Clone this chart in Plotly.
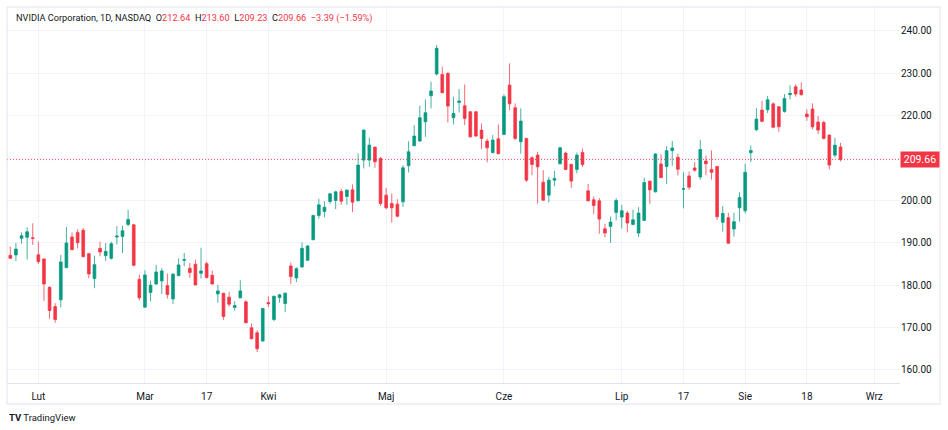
import plotly.graph_objects as go

# daily bars (oldest first)
opens = [187.06, 187.14, 191.06, 191.3, 191.2, 187.2, 186.2, 179.5, 174.98, 176.55,
         184.16, 191.37, 192.47, 193.0, 187.45, 181.57, 188.7, 186.98, 186.35, 191.37,
         191.53, 194.35, 194.27, 181.41, 174.82, 178.27, 180.3, 181.02, 179.92, 176.78,
         182.27, 185.88, 184.0, 184.94, 182.82, 185.1, 182.35, 177.96, 178.12, 177.18,
         174.75, 177.02, 176.08, 169.96, 168.78, 166.82, 175.92, 171.92, 177.1, 175.69,
         184.55, 181.73, 184.31, 185.88, 190.75, 196.47, 197.41, 199.76, 200.0, 202.12,
         200.94, 202.51, 199.92, 209.53, 209.53, 212.6, 209.92, 201.26, 199.29, 199.13,
         199.69, 208.19, 212.91, 214.02, 218.58, 224.72, 229.84, 229.76, 230.0, 219.53,
         223.15, 222.36, 220.94, 220.94, 216.61, 214.02, 211.26, 214.57, 215.59, 227.24,
         221.89, 213.86, 214.65, 210.08, 210.71, 204.33, 201.26, 204.8, 208.66, 211.18,
         208.5, 207.32, 211.34, 202.27, 200.16, 199.92, 193.33, 193.88, 197.18, 196.08,
         197.02, 194.35, 192.31, 195.29, 204.55, 202.04, 208.63, 208.0, 211.76, 210.2,
         202.67, 205.8, 207.69, 205.55, 209.3, 207.34, 208.05, 194.84, 195.94, 193.28,
         198.28, 197.58, 211.25, 216.72, 221.33, 221.41, 222.8, 222.13, 221.02, 224.96,
         226.85, 226.06, 220.39, 221.57, 218.5, 218.43, 215.43, 210.71, 212.64]
highs = [189.1, 189.96, 192.47, 193.65, 194.6, 190.27, 186.35, 179.76, 175.76, 187.14,
         193.73, 192.47, 193.25, 193.49, 187.6, 186.98, 190.27, 189.96, 190.27, 193.96,
         194.04, 197.8, 194.43, 182.5, 183.53, 181.1, 184.78, 184.0, 182.75, 182.9,
         186.35, 187.6, 185.25, 186.04, 188.86, 185.57, 183.45, 180.08, 178.2, 178.43,
         176.24, 181.18, 176.47, 170.98, 169.41, 174.67, 177.41, 177.49, 177.96, 178.27,
         185.33, 184.24, 190.12, 189.49, 196.63, 200.4, 199.84, 201.73, 202.27, 202.75,
         202.67, 203.76, 211.1, 216.77, 214.8, 212.68, 210.31, 202.99, 201.65, 200.31,
         208.35, 214.0, 217.8, 222.36, 223.86, 228.03, 236.69, 231.57, 230.24, 224.49,
         226.3, 227.4, 221.1, 221.1, 218.19, 214.65, 215.43, 217.95, 225.04, 232.36,
         222.91, 221.73, 214.8, 210.47, 211.5, 207.17, 205.59, 207.0, 212.68, 211.5,
         208.74, 211.34, 212.28, 203.92, 200.94, 200.55, 194.51, 196.24, 200.55, 198.98,
         197.57, 197.8, 198.43, 205.41, 204.7, 211.14, 210.9, 212.86, 214.04, 210.98,
         206.67, 206.82, 209.02, 214.3, 210.63, 211.8, 208.13, 198.67, 197.11, 197.11,
         201.95, 208.67, 212.97, 221.8, 223.52, 224.69, 223.13, 222.28, 225.12, 227.17,
         227.4, 227.87, 221.5, 222.91, 219.92, 218.82, 215.59, 214.8, 213.60]
lows = [186.2, 185.7, 189.8, 186.04, 189.5, 185.02, 176.3, 172.08, 171.14, 174.8,
        184.0, 188.24, 188.7, 186.59, 181.65, 179.3, 186.82, 185.73, 186.04, 189.65,
        187.6, 193.88, 184.47, 176.4, 174.75, 176.16, 180.08, 177.96, 176.86, 175.6,
        182.12, 184.47, 181.73, 180.0, 181.57, 181.65, 180.16, 175.84, 171.84, 174.9,
        174.04, 176.94, 170.98, 167.22, 164.24, 166.75, 174.82, 171.53, 175.84, 173.65,
        180.31, 180.7, 184.16, 185.8, 190.6, 195.7, 196.0, 199.2, 197.96, 198.98,
        198.98, 197.25, 199.84, 207.56, 207.95, 207.72, 198.74, 197.95, 194.8, 196.06,
        198.5, 206.61, 212.83, 213.86, 215.04, 221.73, 229.53, 225.28, 218.43, 217.95,
        220.79, 217.8, 214.8, 215.04, 212.13, 208.98, 211.18, 210.94, 215.43, 221.34,
        214.25, 211.02, 204.41, 205.98, 199.29, 199.92, 199.53, 203.39, 208.5, 207.17,
        202.99, 206.38, 207.95, 199.76, 196.78, 192.16, 191.29, 189.96, 195.29, 193.41,
        192.47, 194.12, 191.37, 195.22, 199.22, 201.88, 205.25, 203.92, 208.16, 205.88,
        198.12, 202.51, 206.82, 204.92, 205.94, 204.92, 195.39, 192.66, 189.77, 191.48,
        195.0, 196.95, 209.06, 216.33, 218.44, 220.63, 217.03, 216.22, 220.71, 223.86,
        224.49, 224.8, 218.82, 216.77, 215.67, 214.41, 207.32, 210.16, 209.23]
closes = [186.35, 188.55, 191.69, 192.63, 191.06, 185.57, 180.3, 174.04, 171.9, 185.49,
          189.96, 188.4, 190.04, 186.75, 182.67, 184.86, 187.84, 188.0, 189.8, 191.6,
          192.86, 195.53, 184.7, 177.02, 182.43, 180.0, 183.14, 183.37, 177.8, 182.59,
          184.78, 186.04, 182.98, 180.08, 183.37, 181.8, 180.3, 178.67, 172.63, 175.53,
          175.22, 178.67, 171.14, 167.37, 165.02, 174.51, 175.61, 177.41, 177.73, 178.12,
          182.04, 183.92, 188.7, 189.25, 196.47, 198.98, 198.43, 201.57, 202.04, 199.84,
          202.43, 199.6, 208.35, 216.61, 213.07, 209.13, 199.29, 198.27, 198.27, 196.3,
          207.72, 211.5, 215.2, 219.53, 220.71, 225.83, 235.9, 225.43, 222.28, 220.55,
          223.46, 219.37, 215.04, 215.2, 214.65, 212.44, 214.25, 211.02, 224.49, 222.83,
          214.65, 218.74, 204.8, 208.5, 207.95, 200.08, 204.8, 205.2, 212.44, 207.32,
          204.57, 210.71, 208.5, 199.92, 198.82, 195.61, 192.31, 194.9, 200.0, 197.57,
          194.67, 195.45, 197.02, 204.24, 202.51, 210.98, 205.41, 211.76, 212.39, 207.37,
          202.75, 203.14, 207.14, 212.03, 208.67, 206.64, 196.17, 196.95, 189.92, 195.0,
          200.7, 206.64, 211.8, 219.22, 218.67, 223.75, 217.3, 217.4, 224.09, 225.28,
          225.12, 224.96, 219.76, 217.4, 216.61, 214.65, 208.35, 213.05, 209.66]

# time axis labels (bar number where each month / mid-month mark falls)
tick_pos = [5, 24, 35, 46, 67, 88, 109, 120, 131, 142, 154]
tick_text = ['Lut', 'Mar', '17', 'Kwi', 'Maj', 'Cze', 'Lip', '17', 'Sie', '18', 'Wrz']

price_ticks = [160, 170, 180, 190, 200, 210, 220, 230, 240]
price_labels = ['160.00', '170.00', '180.00', '190.00', '200.00', '', '220.00', '230.00', '240.00']

GREEN = '#089981'
RED = '#F23645'
TEXT = '#131722'
GRID = '#f0f3fa'
BORDER = '#e0e3eb'
FONT = 'Roboto, Arial, sans-serif'

bars = list(range(len(closes)))
last_o, last_h, last_l, last_c = opens[-1], highs[-1], lows[-1], closes[-1]
chg = last_c - closes[-2]
chg_pct = chg / closes[-2] * 100

fig = go.Figure()
fig.add_trace(go.Candlestick(
    x=bars, open=opens, high=highs, low=lows, close=closes,
    increasing=dict(line=dict(color='rgba(8,153,129,0.75)', width=1), fillcolor=GREEN),
    decreasing=dict(line=dict(color='rgba(242,54,69,0.75)', width=1), fillcolor=RED),
    whiskerwidth=0,
    showlegend=False,
))

# last price line + label on the price scale
fig.add_shape(type='line', xref='paper', x0=0, x1=1, yref='y', y0=last_c, y1=last_c,
              line=dict(color='rgba(242,54,69,0.85)', width=1, dash='1px,2px'))
fig.add_annotation(xref='paper', x=0.9995, xanchor='left', yref='y', y=last_c,
                   text=f'{last_c:.2f}', showarrow=False,
                   font=dict(family=FONT, size=10.5, color='white'),
                   bgcolor=RED, borderpad=1, width=36, align='center')

# frame around chart + axes area
fig.add_shape(type='rect', xref='paper', yref='paper', x0=0, x1=1.0448, y0=-0.0559, y1=1,
              line=dict(color=BORDER, width=1), layer='above')

sign = '\u2212' if chg < 0 else '+'
header = (
    f'NVIDIA Corporation, 1D, NASDAQ  '
    f'O<span style="color:{RED}">{last_o:.2f}</span>  '
    f'H<span style="color:{RED}">{last_h:.2f}</span>  '
    f'L<span style="color:{RED}">{last_l:.2f}</span>  '
    f'C<span style="color:{RED}">{last_c:.2f}</span>  '
    f'<span style="color:{RED}">{sign}{abs(chg):.2f} ({sign}{abs(chg_pct):.2f}%)</span>'
)
fig.add_annotation(xref='paper', yref='paper', x=0.0078, y=0.9707, xanchor='left', yanchor='middle',
                   text=header, showarrow=False, font=dict(family=FONT, size=9.2, color=TEXT))

fig.add_annotation(xref='paper', yref='paper', x=0.0, y=-0.092, xanchor='left', yanchor='middle',
                   text='<b>TV</b> TradingView', showarrow=False,
                   font=dict(family=FONT, size=9.5, color=TEXT))

fig.update_layout(
    width=948, height=430,
    margin=dict(l=7, r=48, t=7, b=47),
    paper_bgcolor='white', plot_bgcolor='white',
    font=dict(family=FONT, size=10, color=TEXT),
    xaxis=dict(
        range=[-0.59, 158.6],
        tickmode='array', tickvals=tick_pos, ticktext=tick_text,
        showgrid=True, gridcolor=GRID, gridwidth=1,
        zeroline=False, showline=True, linecolor=BORDER, linewidth=1,
        ticks='', ticklabelstandoff=4,
        rangeslider=dict(visible=False),
        tickfont=dict(family=FONT, size=10, color=TEXT),
    ),
    yaxis=dict(
        side='right', range=[156.93, 245.66],
        tickmode='array', tickvals=price_ticks, ticktext=price_labels,
        showgrid=True, gridcolor=GRID, gridwidth=1,
        zeroline=False, showline=False, ticks='',
        tickfont=dict(family=FONT, size=10, color=TEXT),
    ),
    hovermode=False,
)

# page has a default 8px body margin; drop it so the chart sits at the window corner
fig.write_html('out.html', config={'displayModeBar': False},
               post_script="document.body.style.margin='0';")
